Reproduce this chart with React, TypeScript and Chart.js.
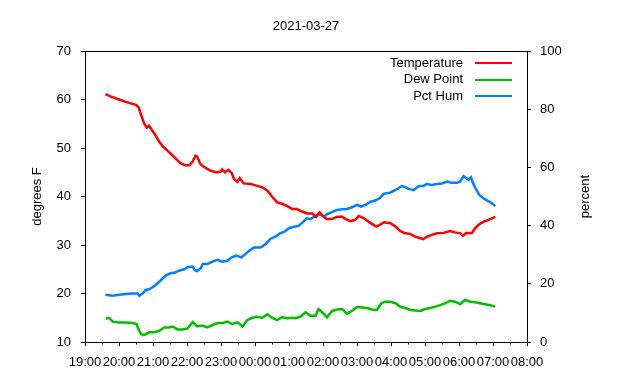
import React, { useEffect, useRef } from "react";
import { Chart, registerables } from "chart.js";

Chart.register(...registerables);

const chartTitle = "2021-03-27";
const leftAxisTitle = "degrees F";
const rightAxisTitle = "percent";
const xTickLabels = ["19:00", "20:00", "21:00", "22:00", "23:00", "00:00", "01:00", "02:00", "03:00", "04:00", "05:00", "06:00", "07:00", "08:00"];
const seriesNames = ["Temperature", "Dew Point", "Pct Hum"];
const seriesColors = ["#ff0000", "#00c000", "#0080ff"];

const tempTimes = ["19:36", "19:46", "19:55", "20:03", "20:12", "20:21", "20:30", "20:35", "20:37", "20:40", "20:44", "20:49", "20:53", "20:58", "21:04", "21:11", "21:17", "21:26", "21:34", "21:43", "21:49", "21:58", "22:05", "22:10", "22:15", "22:18", "22:24", "22:33", "22:42", "22:51", "22:59", "23:02", "23:07", "23:13", "23:19", "23:23", "23:29", "23:33", "23:40", "23:52", "00:04", "00:13", "00:22", "00:30", "00:39", "00:48", "00:57", "01:06", "01:14", "01:23", "01:32", "01:41", "01:48", "01:54", "02:00", "02:07", "02:16", "02:25", "02:34", "02:41", "02:48", "02:57", "03:03", "03:11", "03:18", "03:27", "03:34", "03:41", "03:48", "03:59", "04:08", "04:16", "04:25", "04:34", "04:43", "04:52", "04:57", "05:03", "05:12", "05:21", "05:33", "05:44", "05:53", "06:02", "06:07", "06:13", "06:23", "06:28", "06:36", "06:44", "06:52", "07:04"];
const tempValues = [61.1, 60.6, 60.2, 59.9, 59.5, 59.2, 58.9, 58.3, 57.5, 56.5, 55.1, 54.2, 54.6, 53.7, 52.7, 51.3, 50.4, 49.4, 48.5, 47.5, 46.8, 46.4, 46.5, 47.2, 48.4, 48.2, 46.6, 45.9, 45.3, 45.0, 45.1, 45.6, 45.0, 45.5, 44.8, 43.6, 43.0, 43.8, 42.7, 42.6, 42.2, 41.9, 41.2, 40.0, 38.8, 38.5, 38.0, 37.4, 37.4, 36.9, 36.5, 36.5, 35.8, 36.7, 36.0, 35.3, 35.4, 35.8, 35.8, 35.3, 34.9, 35.2, 36.0, 35.6, 35.0, 34.3, 33.8, 34.2, 34.7, 34.5, 33.8, 32.9, 32.4, 32.3, 31.7, 31.4, 31.2, 31.7, 32.1, 32.4, 32.5, 32.9, 32.6, 32.4, 31.9, 32.5, 32.5, 33.4, 34.3, 34.8, 35.2, 35.8];

const dewTimes = ["19:37", "19:43", "19:49", "20:00", "20:12", "20:24", "20:31", "20:35", "20:39", "20:44", "20:53", "21:02", "21:11", "21:20", "21:28", "21:35", "21:43", "21:52", "22:01", "22:10", "22:18", "22:27", "22:36", "22:45", "22:54", "23:02", "23:11", "23:20", "23:29", "23:38", "23:46", "23:55", "00:04", "00:13", "00:22", "00:30", "00:39", "00:48", "00:57", "01:06", "01:11", "01:20", "01:29", "01:38", "01:47", "01:52", "01:58", "02:07", "02:16", "02:25", "02:34", "02:42", "02:51", "03:00", "03:09", "03:18", "03:26", "03:35", "03:43", "03:50", "03:59", "04:08", "04:16", "04:25", "04:34", "04:43", "04:52", "05:00", "05:09", "05:18", "05:27", "05:36", "05:44", "05:53", "06:02", "06:11", "06:20", "06:28", "06:37", "06:46", "06:55", "07:04"];
const dewValues = [14.9, 14.9, 14.2, 14.0, 14.0, 13.9, 13.7, 12.5, 11.6, 11.4, 12.0, 12.0, 12.3, 13.0, 13.0, 13.2, 12.6, 12.6, 12.8, 14.1, 13.2, 13.4, 13.0, 13.5, 13.9, 13.9, 14.2, 13.7, 14.1, 13.2, 14.5, 15.0, 15.2, 15.0, 15.7, 15.0, 14.5, 15.1, 14.9, 15.0, 14.9, 15.2, 16.1, 15.4, 15.4, 16.8, 16.2, 15.1, 16.4, 16.7, 16.8, 15.8, 16.4, 17.2, 17.1, 17.0, 16.7, 16.6, 18.0, 18.3, 18.3, 18.0, 17.3, 17.0, 16.6, 16.5, 16.4, 16.8, 17.0, 17.3, 17.6, 18.0, 18.5, 18.3, 17.8, 18.7, 18.3, 18.2, 18.0, 17.8, 17.6, 17.3];

const humTimes = ["19:36", "19:49", "20:00", "20:12", "20:24", "20:33", "20:36", "20:42", "20:47", "20:53", "20:59", "21:05", "21:11", "21:17", "21:24", "21:31", "21:39", "21:46", "21:55", "22:01", "22:10", "22:14", "22:18", "22:24", "22:28", "22:36", "22:45", "22:54", "23:02", "23:11", "23:19", "23:27", "23:36", "23:43", "23:50", "23:58", "00:10", "00:19", "00:27", "00:36", "00:44", "00:52", "01:00", "01:08", "01:17", "01:25", "01:31", "01:38", "01:45", "01:54", "02:01", "02:08", "02:18", "02:25", "02:34", "02:42", "02:51", "03:00", "03:07", "03:15", "03:24", "03:32", "03:40", "03:47", "03:58", "04:11", "04:19", "04:25", "04:31", "04:40", "04:49", "04:57", "05:03", "05:12", "05:21", "05:30", "05:39", "05:47", "05:56", "06:02", "06:08", "06:13", "06:17", "06:21", "06:25", "06:30", "06:36", "06:43", "06:50", "06:58", "07:04"];
const humValues = [16.2, 15.9, 16.2, 16.5, 16.7, 16.7, 15.9, 16.7, 17.9, 18.1, 18.8, 19.6, 20.7, 21.9, 23.0, 23.6, 23.9, 24.5, 25.0, 25.7, 25.9, 24.7, 24.4, 25.3, 26.8, 26.8, 27.6, 28.2, 27.6, 27.9, 29.1, 29.7, 29.1, 30.2, 31.4, 32.5, 32.5, 33.7, 35.4, 36.2, 37.3, 37.9, 39.1, 39.6, 39.9, 41.3, 42.5, 42.3, 43.1, 43.9, 43.1, 44.0, 44.8, 45.4, 45.6, 45.7, 46.3, 47.1, 46.5, 47.1, 48.2, 48.6, 49.4, 50.9, 51.3, 52.5, 53.6, 53.2, 52.6, 52.2, 53.6, 53.6, 54.3, 54.0, 54.3, 54.5, 55.1, 54.7, 54.7, 55.1, 57.0, 56.3, 55.7, 56.6, 54.5, 52.5, 50.5, 49.4, 48.6, 47.7, 46.7];

const FONT = "'Liberation Sans', Arial, sans-serif";
const FONT_SIZE = 13;

function toMinutes(t: string): number {
  const [h, m] = t.split(":").map(Number);
  return ((h - 19 + 24) % 24) * 60 + m;
}

function pts(times: string[], values: number[]) {
  return times.map((t, i) => ({ x: toMinutes(t), y: values[i] }));
}

const decorPlugin = {
  id: "decor",
  afterDraw(chart: any) {
    const { ctx, chartArea: a } = chart;
    ctx.save();
    ctx.strokeStyle = "#000";
    ctx.lineWidth = 1;
    ctx.beginPath();
    ctx.moveTo(a.left, Math.round(a.top) + 0.5);
    ctx.lineTo(a.right + 1, Math.round(a.top) + 0.5);
    ctx.stroke();
    // minor x ticks at half hours
    const xs = chart.scales.x;
    ctx.beginPath();
    for (let m = 30; m < 780; m += 60) {
      const px = Math.round(xs.getPixelForValue(m)) + 0.5;
      ctx.moveTo(px, a.bottom);
      ctx.lineTo(px, a.bottom + 2.5);
    }
    ctx.stroke();

    ctx.fillStyle = "#000";
    ctx.font = `${FONT_SIZE}px ${FONT}`;
    ctx.textBaseline = "middle";
    ctx.textAlign = "center";
    ctx.fillText(chartTitle, (a.left + a.right) / 2, 26);

    const midY = (a.top + a.bottom) / 2;
    ctx.save();
    ctx.translate(37, midY);
    ctx.rotate(-Math.PI / 2);
    ctx.fillText(leftAxisTitle, 0, 0);
    ctx.restore();
    ctx.save();
    ctx.translate(a.right + 58, midY);
    ctx.rotate(-Math.PI / 2);
    ctx.fillText(rightAxisTitle, 0, 0);
    ctx.restore();

    // legend
    ctx.textAlign = "right";
    seriesNames.forEach((name, i) => {
      const y = a.top + 12 + i * 16.5;
      ctx.fillStyle = "#000";
      ctx.fillText(name, a.right - 64, y);
      ctx.strokeStyle = seriesColors[i];
      ctx.lineWidth = 2;
      ctx.beginPath();
      ctx.moveTo(a.right - 52, Math.round(y));
      ctx.lineTo(a.right - 15, Math.round(y));
      ctx.stroke();
    });
    ctx.restore();
  },
};

export default function App() {
  const ref = useRef<HTMLCanvasElement | null>(null);
  useEffect(() => {
    if (!ref.current) return;
    Chart.defaults.font.family = FONT;
    Chart.defaults.font.size = FONT_SIZE;
    Chart.defaults.color = "#000";
    const axisGrid = { display: true, drawOnChartArea: false, drawTicks: true, tickLength: 4, color: "#000" };
    const axisBorder = { display: true, color: "#000", width: 1 };
    const chart = new Chart(ref.current, {
      type: "line",
      data: {
        datasets: [
          { label: seriesNames[0], data: pts(tempTimes, tempValues), borderColor: seriesColors[0], yAxisID: "y" },
          { label: seriesNames[1], data: pts(dewTimes, dewValues), borderColor: seriesColors[1], yAxisID: "y" },
          { label: seriesNames[2], data: pts(humTimes, humValues), borderColor: seriesColors[2], yAxisID: "y1" },
        ].map((d) => ({ ...d, borderWidth: 2.5, pointRadius: 0, tension: 0, fill: false })),
      },
      options: {
        responsive: false,
        animation: false,
        devicePixelRatio: 1,
        layout: { padding: { top: 51, left: 0, right: 0, bottom: 0 } },
        plugins: { legend: { display: false }, title: { display: false }, tooltip: { enabled: false } },
        scales: {
          x: {
            type: "linear",
            position: "bottom",
            min: 0,
            max: 780,
            grid: axisGrid,
            border: axisBorder,
            ticks: {
              stepSize: 60,
              autoSkip: false,
              maxRotation: 0,
              padding: 9,
              callback: (v: any) => xTickLabels[Math.round(Number(v) / 60)] ?? "",
            },
            afterFit: (s: any) => { s.height = 38; },
          },
          y: {
            type: "linear",
            position: "left",
            min: 10,
            max: 70,
            grid: axisGrid,
            border: axisBorder,
            ticks: { stepSize: 10, padding: 10 },
            afterFit: (s: any) => { s.width = 85; },
          },
          y1: {
            type: "linear",
            position: "right",
            min: 0,
            max: 100,
            grid: axisGrid,
            border: axisBorder,
            ticks: { stepSize: 20, padding: 9 },
            afterFit: (s: any) => { s.width = 113; },
          },
        },
      } as any,
      plugins: [decorPlugin],
    });
    return () => chart.destroy();
  }, []);
  return (
    <div style={{ position: "absolute", left: 0, top: 0, width: 640, height: 380, background: "#fff" }}>
      <canvas ref={ref} width={640} height={380} style={{ width: 640, height: 380 }} />
    </div>
  );
}
